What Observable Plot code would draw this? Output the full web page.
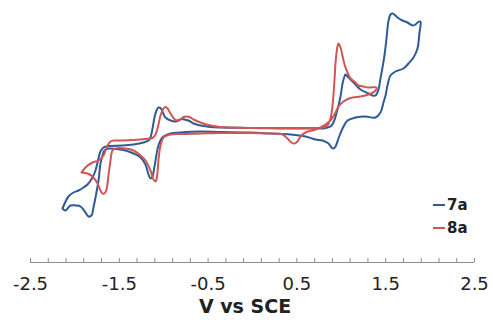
<!DOCTYPE html>
<html>
<head>
<meta charset="utf-8">
<script src="https://cdn.jsdelivr.net/npm/d3@7"></script>
<script src="https://cdn.jsdelivr.net/npm/@observablehq/plot@0.6"></script>
<style>
  body { margin: 0; background: #fff; }
  #wrap { position: relative; width: 493px; height: 320px; font-family: "DejaVu Sans", sans-serif; color: #222; }
  #title { position: absolute; left: 0; width: 490px; top: 298.5px; text-align: center; font-weight: bold; font-size: 19px; line-height: 14px; }
  .lg { position: absolute; left: 447px; font-weight: bold; font-size: 15px; line-height: 15px; }
  .sw { position: absolute; left: 433px; width: 12px; height: 2px; }
</style>
</head>
<body>
<div id="wrap"></div>
<script>
// Series names and colours
const seriesNames = ["7a", "8a"];
const seriesColors = ["#2E5A96", "#D05654"];

// 7a: potential (V vs SCE) and current (arb. units), one closed CV loop
const blueV = [-2.140,-2.072,-2.016,-1.959,-1.903,-1.858,-1.802,-1.768,-1.745,-1.712,-1.678,-1.622,-1.464,-1.340,-1.227,-1.171,-1.149,-1.126,-1.104,-1.081,-1.059,-1.036,-1.014,-0.980,-0.923,-0.867,-0.833,-0.800,-0.766,-0.721,-0.664,-0.586,-0.473,-0.360,-0.023,0.315,0.653,0.788,0.845,0.878,0.912,0.957,0.991,1.014,1.036,1.047,1.070,1.104,1.160,1.216,1.306,1.351,1.385,1.419,1.441,1.464,1.486,1.509,1.532,1.554,1.577,1.610,1.633,1.689,1.745,1.802,1.836,1.858,1.892,
  1.892,1.881,1.858,1.813,1.757,1.700,1.610,1.554,1.520,1.498,1.475,1.441,1.385,1.273,1.160,1.070,1.014,0.968,0.935,0.912,0.890,0.856,0.788,0.709,0.597,0.428,0.203,-0.023,-0.360,-0.586,-0.811,-0.923,-1.014,-1.059,-1.092,-1.115,-1.126,-1.149,-1.171,-1.205,-1.261,-1.340,-1.430,-1.543,-1.622,-1.667,-1.689,-1.712,-1.734,-1.768,-1.791,-1.813,-1.847,-1.881,-1.937,-1.993,-2.050,-2.106,-2.140];
const blueI = [-7.8,-6.6,-6.2,-6.0,-5.7,-5.4,-4.7,-4.0,-3.2,-2.1,-1.7,-1.55,-1.5,-1.4,-1.2,-1.0,-0.7,0.2,1.3,2.0,2.3,2.25,1.9,1.3,1.0,0.9,1.0,1.15,1.1,1.0,0.7,0.5,0.35,0.3,0.25,0.2,0.2,0.2,0.3,0.4,0.8,2.1,3.4,4.7,5.4,5.6,5.4,5.1,4.6,4.1,3.7,3.5,3.5,4.1,5.2,6.3,7.5,9.2,11.0,11.6,11.7,11.5,11.3,11.0,10.8,10.5,10.6,10.8,10.9,
  10.5,9.8,8.2,7.3,6.7,6.2,5.9,5.5,4.5,3.5,2.8,1.8,1.3,1.4,1.3,1.0,0.2,-0.8,-1.6,-1.8,-1.7,-1.3,-1.0,-0.9,-0.6,-0.4,-0.3,-0.2,-0.15,-0.1,-0.2,-0.3,-0.7,-1.5,-3.0,-4.2,-4.6,-4.8,-4.4,-3.4,-2.7,-2.3,-2.0,-1.85,-1.8,-2.0,-2.5,-3.3,-5.0,-6.7,-7.7,-8.5,-8.6,-8.2,-7.6,-7.5,-7.5,-8.0,-7.8];

// 8a
const redV = [-1.926,-1.881,-1.802,-1.734,-1.678,-1.655,-1.633,-1.599,-1.543,-1.464,-1.340,-1.205,-1.126,-1.092,-1.059,-1.036,-1.002,-0.980,-0.957,-0.923,-0.867,-0.811,-0.777,-0.743,-0.709,-0.664,-0.586,-0.473,-0.360,-0.023,0.315,0.653,0.788,0.845,0.878,0.901,0.923,0.935,0.957,0.968,0.991,1.025,1.047,1.070,1.104,1.160,1.194,1.250,1.306,1.396,
  1.374,1.306,1.216,1.104,1.025,0.968,0.935,0.878,0.822,0.709,0.597,0.541,0.507,0.473,0.439,0.394,0.338,0.203,-0.023,-0.360,-0.586,-0.811,-0.923,-1.002,-1.036,-1.059,-1.070,-1.081,-1.092,-1.115,-1.149,-1.205,-1.261,-1.340,-1.430,-1.543,-1.577,-1.599,-1.622,-1.644,-1.667,-1.689,-1.712,-1.745,-1.802,-1.858,-1.926];
const redI = [-4.2,-3.7,-3.2,-3.0,-2.5,-2.0,-1.5,-1.1,-1.0,-1.0,-0.95,-0.85,-0.75,-0.4,0.6,1.5,2.2,2.35,2.2,1.7,1.05,1.1,1.35,1.4,1.35,1.1,0.8,0.5,0.35,0.25,0.25,0.25,0.3,0.5,1.2,2.5,5.0,6.8,8.4,8.7,8.3,7.0,6.3,5.8,5.2,4.8,4.5,4.4,4.3,4.3,
  3.9,3.6,3.4,3.25,2.9,2.4,1.8,1.0,0.6,0.1,-0.2,-0.6,-1.1,-1.3,-1.2,-0.8,-0.4,-0.3,-0.25,-0.25,-0.3,-0.35,-0.4,-0.7,-1.5,-3.0,-4.2,-4.9,-5.1,-4.9,-4.0,-3.0,-2.5,-2.0,-1.8,-1.8,-2.0,-3.0,-4.5,-5.9,-6.3,-6.3,-6.0,-5.3,-4.6,-4.3,-4.2];

// Axis ticks
const xTickLabels = [-2.5, -1.5, -0.5, 0.5, 1.5, 2.5];
const xMinorTicks = [-2.5,-2.3,-2.1,-1.9,-1.7,-1.5,-1.3,-1.1,-0.9,-0.7,-0.5,-0.3,-0.1,0.1,0.3,0.5,0.7,0.9,1.1,1.3,1.5,1.7,1.9,2.1,2.3,2.5];
const xDomain = [-2.5, 2.5];
const yDomain = [-13.2, 12];

const rows = [];
blueV.forEach((v, i) => rows.push({series: seriesNames[0], V: v, I: blueI[i]}));
redV.forEach((v, i) => rows.push({series: seriesNames[1], V: v, I: redI[i]}));

const chart = Plot.plot({
  width: 493,
  height: 320,
  marginLeft: 30,
  marginRight: 19,
  marginTop: 10,
  marginBottom: 58,
  style: {fontFamily: "DejaVu Sans, sans-serif", fontSize: "18px", color: "#222", background: "#fff"},
  x: {domain: xDomain},
  y: {domain: yDomain, axis: null},
  color: {domain: seriesNames, range: seriesColors},
  marks: [
    Plot.ruleY([yDomain[0]], {stroke: "#8c8c8c", strokeWidth: 1}),
    Plot.axisX(xMinorTicks, {tickSize: -4, tickFormat: () => "", label: null, stroke: "#8c8c8c"}),
    Plot.axisX(xTickLabels, {tickSize: 0, tickPadding: 15, tickFormat: d => d.toFixed(1), label: null, fill: "#222"}),
    Plot.line(rows, {x: "V", y: "I", z: "series", stroke: "series", strokeWidth: 2, curve: "catmull-rom"})
  ]
});

const wrap = document.getElementById("wrap");
wrap.appendChild(chart);

const title = document.createElement("div");
title.id = "title";
title.textContent = "V vs SCE";
wrap.appendChild(title);

seriesNames.forEach((name, i) => {
  const sw = document.createElement("div");
  sw.className = "sw";
  sw.style.top = (204 + i * 23) + "px";
  sw.style.background = seriesColors[i];
  wrap.appendChild(sw);
  const t = document.createElement("div");
  t.className = "lg";
  t.style.top = (198 + i * 23) + "px";
  t.textContent = name;
  wrap.appendChild(t);
});
</script>
</body>
</html>
